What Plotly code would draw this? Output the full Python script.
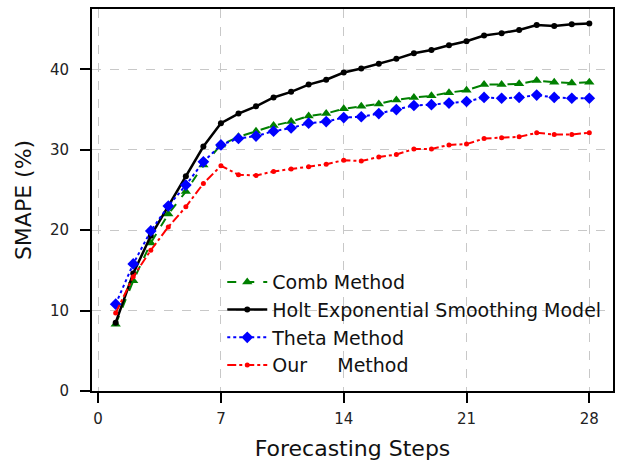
import plotly.graph_objects as go

# Forecasting horizon (steps 1..28)
steps = list(range(1, 29))

comb_smape = [8.3, 13.7, 18.4, 22.0, 24.8, 28.1, 30.6, 31.6, 32.3, 33.0, 33.5, 34.2, 34.5, 35.1,
              35.4, 35.7, 36.2, 36.5, 36.7, 37.1, 37.4, 38.1, 38.1, 38.2, 38.6, 38.4, 38.3, 38.4]
holt_smape = [8.5, 14.6, 19.3, 23.0, 26.7, 30.4, 33.3, 34.5, 35.4, 36.5, 37.2, 38.1, 38.7, 39.6,
              40.1, 40.7, 41.3, 42.0, 42.4, 43.0, 43.5, 44.2, 44.5, 44.9, 45.5, 45.4, 45.6, 45.7]
theta_smape = [10.8, 15.8, 19.9, 23.0, 25.6, 28.5, 30.6, 31.4, 31.7, 32.3, 32.7, 33.3, 33.5, 34.0,
               34.1, 34.5, 35.0, 35.5, 35.6, 35.8, 36.0, 36.5, 36.4, 36.5, 36.8, 36.5, 36.4, 36.4]
our_smape = [9.7, 14.2, 17.5, 20.4, 22.9, 25.8, 28.0, 26.9, 26.8, 27.3, 27.6, 27.9, 28.2, 28.7,
             28.6, 29.1, 29.4, 30.1, 30.1, 30.6, 30.7, 31.4, 31.5, 31.6, 32.1, 31.9, 31.9, 32.1]

x_ticks = [0, 7, 14, 21, 28]
y_ticks = [0, 10, 20, 30, 40]

series = [
    ("Comb Method", comb_smape, "#008000", "dash", "triangle-up", 9, 2),
    ("Holt Exponential Smoothing Model", holt_smape, "#000000", "solid", "circle", 6, 2.5),
    ("Theta Method", theta_smape, "#0000ff", "dot", "diamond", 9, 2),
    ("Our\u00a0\u00a0\u00a0\u00a0\u00a0Method", our_smape, "#ff0000", "dashdot", "circle", 5, 2),
]

fig = go.Figure()
for name, vals, color, dash, symbol, size, width in series:
    fig.add_trace(go.Scatter(
        x=steps, y=vals, name=name, mode="lines+markers",
        line=dict(color=color, width=width, dash=dash),
        marker=dict(symbol=symbol, size=size, color=color),
    ))

axis_common = dict(
    showline=True, linecolor="black", linewidth=2, mirror=True,
    ticks="outside", ticklen=10, tickwidth=2, tickcolor="black",
    showgrid=True, gridcolor="#c8c8c8", gridwidth=1, griddash="dash",
    zeroline=False, tickfont=dict(size=15, color="#222"),
)

fig.update_xaxes(range=[-0.35, 29.35], tickvals=x_ticks, ticklabelstandoff=3,
                 title=dict(text="Forecasting Steps", font=dict(size=22, color="#111"), standoff=14),
                 **axis_common)
fig.update_yaxes(range=[0, 47.5], tickvals=y_ticks, ticklabelstandoff=8,
                 title=dict(text="SMAPE (%)", font=dict(size=22, color="#111"), standoff=12),
                 **axis_common)

fig.update_layout(
    width=620, height=465,
    margin=dict(l=92, r=5, t=9, b=74),
    paper_bgcolor="white", plot_bgcolor="white",
    font=dict(family="DejaVu Sans", color="#111"),
    legend=dict(x=0.25, y=0.335, xanchor="left", yanchor="top",
                bgcolor="rgba(0,0,0,0)", font=dict(size=19, color="#111"),
                tracegroupgap=0, itemwidth=40),
    showlegend=True,
)

fig.write_html("out.html")
